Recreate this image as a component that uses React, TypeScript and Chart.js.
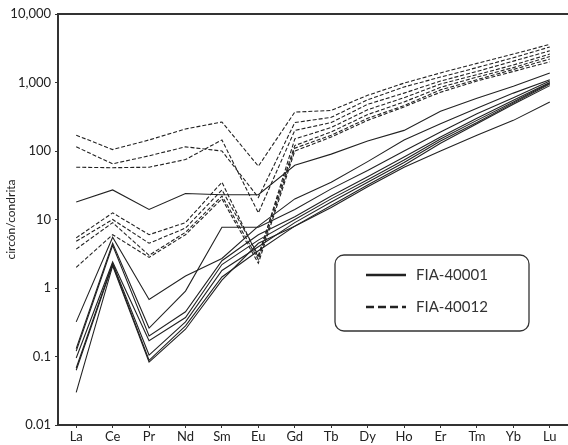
import React, { useEffect, useRef } from "react";
import { Chart, registerables } from "chart.js";

Chart.register(...registerables);

const CATEGORIES = ["La", "Ce", "Pr", "Nd", "Sm", "Eu", "Gd", "Tb", "Dy", "Ho", "Er", "Tm", "Yb", "Lu"];
const Y_TICKS = [0.01, 0.1, 1, 10, 100, 1000, 10000];
const LEGEND_LABELS = ["FIA-40001", "FIA-40012"];
const Y_TITLE = "circón/condrita";

// FIA-40001 (solid)
const S1 = [18, 27, 14, 24, 23, 23, 62, 90, 140, 200, 380, 590, 880, 1380];
const S2 = [0.32, 5.5, 0.68, 1.5, 2.7, 8, 20, 35, 70, 145, 250, 420, 700, 1100];
const S3 = [0.13, 4.5, 0.26, 0.9, 7.7, 7.7, 14, 28, 52, 100, 190, 350, 600, 1050];
const S4 = [0.12, 4.2, 0.2, 0.45, 2.5, 6, 11, 22, 42, 82, 160, 300, 550, 1000];
const S5 = [0.095, 2.4, 0.17, 0.37, 2.2, 5, 10, 20, 38, 74, 150, 280, 520, 980];
const S6 = [0.068, 2.3, 0.105, 0.32, 1.8, 4, 9, 18, 35, 68, 140, 260, 500, 950];
const S7 = [0.063, 2.2, 0.088, 0.28, 1.45, 3.5, 8, 16, 32, 62, 130, 250, 480, 900];
const S8 = [0.03, 2.1, 0.083, 0.25, 1.3, 4.5, 8, 15, 30, 58, 100, 170, 280, 520];

// FIA-40012 (dashed)
const D1 = [170, 105, 145, 210, 265, 60, 370, 390, 650, 980, 1380, 1900, 2600, 3600];
const D2 = [115, 65, 85, 115, 100, 21, 260, 310, 560, 860, 1200, 1650, 2300, 3300];
const D3 = [58, 57, 58, 75, 145, 12.5, 200, 260, 480, 700, 1050, 1450, 2050, 2900];
const D4 = [5.4, 12.5, 6, 9, 35, 2.8, 150, 220, 400, 600, 950, 1300, 1800, 2600];
const D5 = [4.8, 10, 4.5, 7.5, 27, 3, 120, 190, 340, 520, 850, 1200, 1650, 2400];
const D6 = [3.7, 9, 3, 6.5, 22, 2.6, 110, 170, 300, 460, 780, 1100, 1550, 2200];
const D7 = [2.0, 6, 2.8, 6, 20, 2.3, 100, 160, 280, 440, 720, 1050, 1450, 2000];

const SOLID_SERIES = [S1, S2, S3, S4, S5, S6, S7, S8];
const DASHED_SERIES = [D1, D2, D3, D4, D5, D6, D7];

const INK = "#222";
const FONT = "Lato, 'Open Sans', sans-serif";

const frameAndLegend = {
  id: "frameAndLegend",
  afterDraw(chart: any) {
    const { ctx, chartArea } = chart;
    ctx.save();
    // top frame line
    ctx.strokeStyle = "#333";
    ctx.lineWidth = 2;
    ctx.beginPath();
    ctx.moveTo(chartArea.left, chartArea.top);
    ctx.lineTo(chartArea.right, chartArea.top);
    ctx.stroke();

    // legend box
    const bx = chartArea.left + 277;
    const by = chartArea.top + 241;
    const bw = 194;
    const bh = 76;
    const r = 9;
    ctx.lineWidth = 1.3;
    ctx.strokeStyle = "#333";
    ctx.fillStyle = "#fff";
    ctx.beginPath();
    ctx.moveTo(bx + r, by);
    ctx.lineTo(bx + bw - r, by);
    ctx.arcTo(bx + bw, by, bx + bw, by + r, r);
    ctx.lineTo(bx + bw, by + bh - r);
    ctx.arcTo(bx + bw, by + bh, bx + bw - r, by + bh, r);
    ctx.lineTo(bx + r, by + bh);
    ctx.arcTo(bx, by + bh, bx, by + bh - r, r);
    ctx.lineTo(bx, by + r);
    ctx.arcTo(bx, by, bx + r, by, r);
    ctx.closePath();
    ctx.fill();
    ctx.stroke();

    const rows = [by + 20, by + 52];
    ctx.lineWidth = 2.5;
    ctx.strokeStyle = INK;
    rows.forEach((y, i) => {
      ctx.setLineDash(i === 0 ? [] : [8, 4]);
      ctx.beginPath();
      ctx.moveTo(bx + 31, y);
      ctx.lineTo(bx + 71, y);
      ctx.stroke();
      ctx.setLineDash([]);
      ctx.fillStyle = "#333";
      ctx.font = `15px ${FONT}`;
      ctx.textBaseline = "middle";
      ctx.textAlign = "left";
      ctx.fillText(LEGEND_LABELS[i], bx + 81, y);
    });
    ctx.restore();
  },
};

export default function App() {
  const ref = useRef<HTMLCanvasElement | null>(null);

  useEffect(() => {
    if (!ref.current) return;
    const datasets: any[] = [];
    SOLID_SERIES.forEach((s, i) =>
      datasets.push({
        label: LEGEND_LABELS[0] + " #" + (i + 1),
        data: s,
        borderColor: INK,
        borderWidth: 1.1,
        pointRadius: 0,
        fill: false,
        tension: 0,
      })
    );
    DASHED_SERIES.forEach((s, i) =>
      datasets.push({
        label: LEGEND_LABELS[1] + " #" + (i + 1),
        data: s,
        borderColor: INK,
        borderWidth: 1.1,
        borderDash: [4, 2],
        pointRadius: 0,
        fill: false,
        tension: 0,
      })
    );

    const chart = new Chart(ref.current, {
      type: "line",
      data: { labels: CATEGORIES, datasets },
      options: {
        responsive: false,
        animation: false,
        devicePixelRatio: 1,
        layout: { padding: { top: 14, right: 0, bottom: 0, left: 0 } },
        plugins: { legend: { display: false }, tooltip: { enabled: false } },
        scales: {
          x: {
            type: "category",
            offset: true,
            grid: { display: true, drawOnChartArea: false, drawTicks: true, tickLength: 3, color: "#333", offset: false },
            border: { display: true, color: "#333", width: 2 },
            ticks: { color: INK, font: { family: FONT, size: 13 }, padding: 1, maxRotation: 0, autoSkip: false },
            afterFit: (scale: any) => {
              scale.height = 20;
            },
          },
          y: {
            type: "logarithmic",
            min: 0.01,
            max: 10000,
            grid: { display: true, drawOnChartArea: false, drawTicks: true, tickLength: 3, color: "#333" },
            border: { display: true, color: "#333", width: 2 },
            ticks: {
              color: INK,
              font: { family: FONT, size: 13 },
              padding: 4,
              callback: (v: any) => Number(v).toLocaleString("en-US"),
            },
            afterBuildTicks: (scale: any) => {
              scale.ticks = Y_TICKS.map((v) => ({ value: v }));
            },
            afterFit: (scale: any) => {
              scale.width = 58;
            },
            title: {
              display: true,
              text: Y_TITLE,
              color: INK,
              font: { family: FONT, size: 12 },
              padding: { top: 4, bottom: 0 },
            },
          },
        },
      },
      plugins: [frameAndLegend],
    });
    return () => chart.destroy();
  }, []);

  return (
    <div style={{ position: "absolute", left: 0, top: 0, width: 568, height: 445, background: "#fff" }}>
      <canvas ref={ref} width={568} height={445} />
    </div>
  );
}
